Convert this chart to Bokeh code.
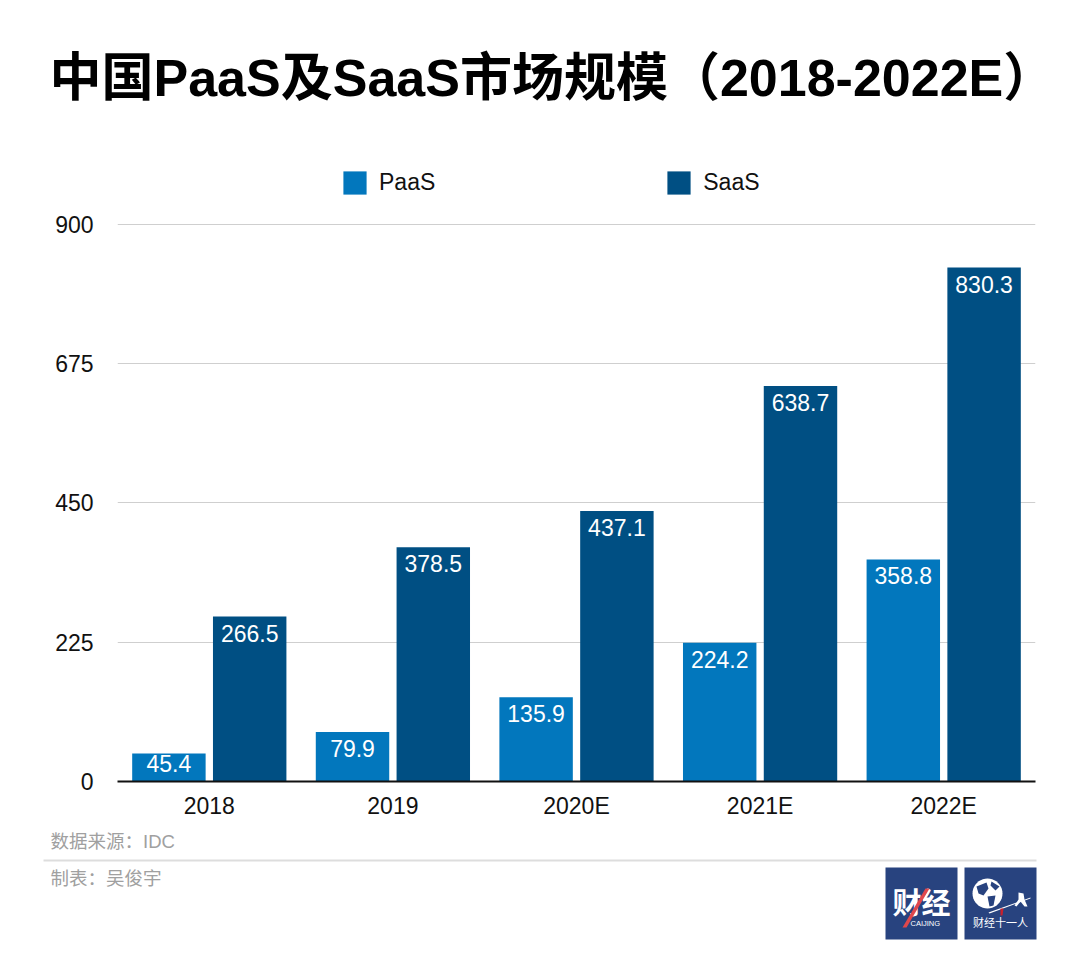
import math
from bokeh.core.properties import value
from bokeh.embed import file_html
from bokeh.resources import INLINE
from bokeh.plotting import figure
from bokeh.layouts import column
from bokeh.models import (ColumnDataSource, FactorRange, Range1d, Legend, LegendItem, FixedTicker)
from bokeh.transform import dodge

categories = ["2018", "2019", "2020E", "2021E", "2022E"]
paas_values = [45.4, 79.9, 135.9, 224.2, 358.8]
saas_values = [266.5, 378.5, 437.1, 638.7, 830.3]
y_ticks = [0, 225, 450, 675, 900]
title_text = "中国PaaS及SaaS市场规模（2018-2022E）"
source_text = "数据来源：IDC"
maker_text = "制表：吴俊宇"

PAAS = "#0277bd"
SAAS = "#004f83"
LOGO = "#28437f"
FONT = "'Liberation Sans', 'Noto Sans CJK SC'"
W = 1080
HEAD_B, MAIN_B, PAGE_B = 208, 821, 969


def panel(top, bottom):
    f = figure(width=W, height=bottom - top, output_backend="svg", toolbar_location=None,
               x_range=Range1d(0, W), y_range=Range1d(bottom, top),
               min_border=0, x_axis_location=None, y_axis_location=None)
    f.outline_line_color = None
    f.grid.visible = False
    f.frame_align = False
    return f


def text(f, s, x, y, size, color="#111111", style="normal", baseline="middle", align="left"):
    f.text(x=[x], y=[y], text=[s], text_font=value(FONT), text_font_size=f"{size}px", text_color=color,
           text_font_style=style, text_baseline=baseline, text_align=align)


def poly(f, pts, color):
    f.patch([a for a, _ in pts], [b for _, b in pts], fill_color=color, line_color=None)


def box(f, l, t, r, b, color):
    f.quad(left=[l], right=[r], top=[t], bottom=[b], fill_color=color, line_color=None)


# ---------- header ----------
head = panel(0, HEAD_B)
text(head, title_text, 49, 77, 52, color="#000000", style="bold")
h1 = head.vbar(x=[-100], top=[-100], width=1, fill_color=PAAS, line_color=None)
h2 = head.vbar(x=[-100], top=[-100], width=1, fill_color=SAAS, line_color=None)
legend = Legend(items=[LegendItem(label="PaaS", renderers=[h1]), LegendItem(label="SaaS", renderers=[h2])],
                orientation="horizontal", location=(340, HEAD_B - 197), border_line_color=None,
                background_fill_alpha=0, padding=0, margin=0, spacing=229,
                glyph_width=29, glyph_height=29, label_standoff=10,
                label_text_font=FONT, label_text_font_size="23px", label_text_color="#111111",
                label_height=29)
head.add_layout(legend, "center")

# ---------- main chart ----------
src = ColumnDataSource(dict(
    cat=categories, paas=paas_values, saas=saas_values,
    paas_txt=[f"{v:.1f}" for v in paas_values],
    saas_txt=[f"{v:.1f}" for v in saas_values],
    paas_off=[8 if v > 60 else 2 for v in paas_values],
    saas_off=[8 if v > 60 else 2 for v in saas_values],
))
p = figure(width=W, height=MAIN_B - HEAD_B, output_backend="svg", toolbar_location=None,
           x_range=FactorRange(factors=categories, range_padding=0, factor_padding=0),
           y_range=Range1d(0, 903),
           min_border_left=117, min_border_right=45, min_border_top=14, min_border_bottom=40)
p.frame_align = False
p.outline_line_color = None
p.xgrid.grid_line_color = None
p.ygrid.grid_line_color = "#cfcfcf"
p.ygrid.grid_line_width = 1
p.yaxis.ticker = FixedTicker(ticks=y_ticks)
p.yaxis.axis_line_color = None
p.yaxis.major_tick_line_color = None
p.yaxis.minor_tick_line_color = None
p.yaxis.major_label_standoff = 18
p.xaxis.axis_line_color = "#111111"
p.xaxis.axis_line_width = 2
p.xaxis.major_tick_line_color = None
p.xaxis.minor_tick_line_color = None
p.xaxis.major_label_standoff = 5
for ax in (p.xaxis[0], p.yaxis[0]):
    ax.major_label_text_font = FONT
    ax.major_label_text_font_size = "23px"
    ax.major_label_text_color = "#111111"

p.vbar(x=dodge("cat", -0.22, range=p.x_range), top="paas", width=0.4, source=src,
       fill_color=PAAS, line_color=None)
p.vbar(x=dodge("cat", 0.22, range=p.x_range), top="saas", width=0.4, source=src,
       fill_color=SAAS, line_color=None)
for xoff, yf, tf, of in ((-0.22, "paas", "paas_txt", "paas_off"), (0.22, "saas", "saas_txt", "saas_off")):
    p.text(x=dodge("cat", xoff, range=p.x_range), y=yf, text=tf, source=src,
           text_color="white", text_font=value(FONT), text_font_size="23px",
           text_align="center", text_baseline="top", y_offset=of)

# ---------- footer ----------
foot = panel(MAIN_B, PAGE_B)
text(foot, source_text, 50, 841, 18.5, color="#a0a0a0")
text(foot, maker_text, 50, 878, 18.5, color="#a0a0a0")
box(foot, 43, 859, 1036, 861, "#dddddd")
box(foot, 885, 867, 957, 939, LOGO)
box(foot, 964, 867, 1036, 939, LOGO)
text(foot, "财经", 921, 903, 29, color="white", style="bold", align="center")
poly(foot, [(925, 888), (929, 888), (906, 927), (902, 927)], "#e0474c")
text(foot, "CAIJING", 910, 923, 7.5, color="white")
gx, gy, gr = 987, 893, 15
poly(foot, [(gx + gr * math.cos(i * math.pi / 20), gy + gr * math.sin(i * math.pi / 20)) for i in range(40)], "white")
poly(foot, [(976, 886), (986, 882), (988, 888), (983, 895), (978, 893)], LOGO)
poly(foot, [(987, 896), (995, 895), (993, 905), (989, 906)], LOGO)
poly(foot, [(991, 881), (999, 886), (995, 890), (990, 885)], LOGO)
poly(foot, [(988, 912), (1030, 897), (1030, 898), (989, 913)], "white")
poly(foot, [(1018, 892), (1023, 893), (1024, 899), (1027, 906), (1024, 906), (1020, 901), (1016, 906), (1014, 905), (1018, 899)], "white")
poly(foot, [(1000, 908), (1003, 908), (1002, 915), (1000, 915)], "#c8202c")
text(foot, "财经十一人", 1000, 922, 11, color="white", align="center")

page = column(head, p, foot, spacing=0)
open("out.html", "w").write(file_html(page, INLINE))
